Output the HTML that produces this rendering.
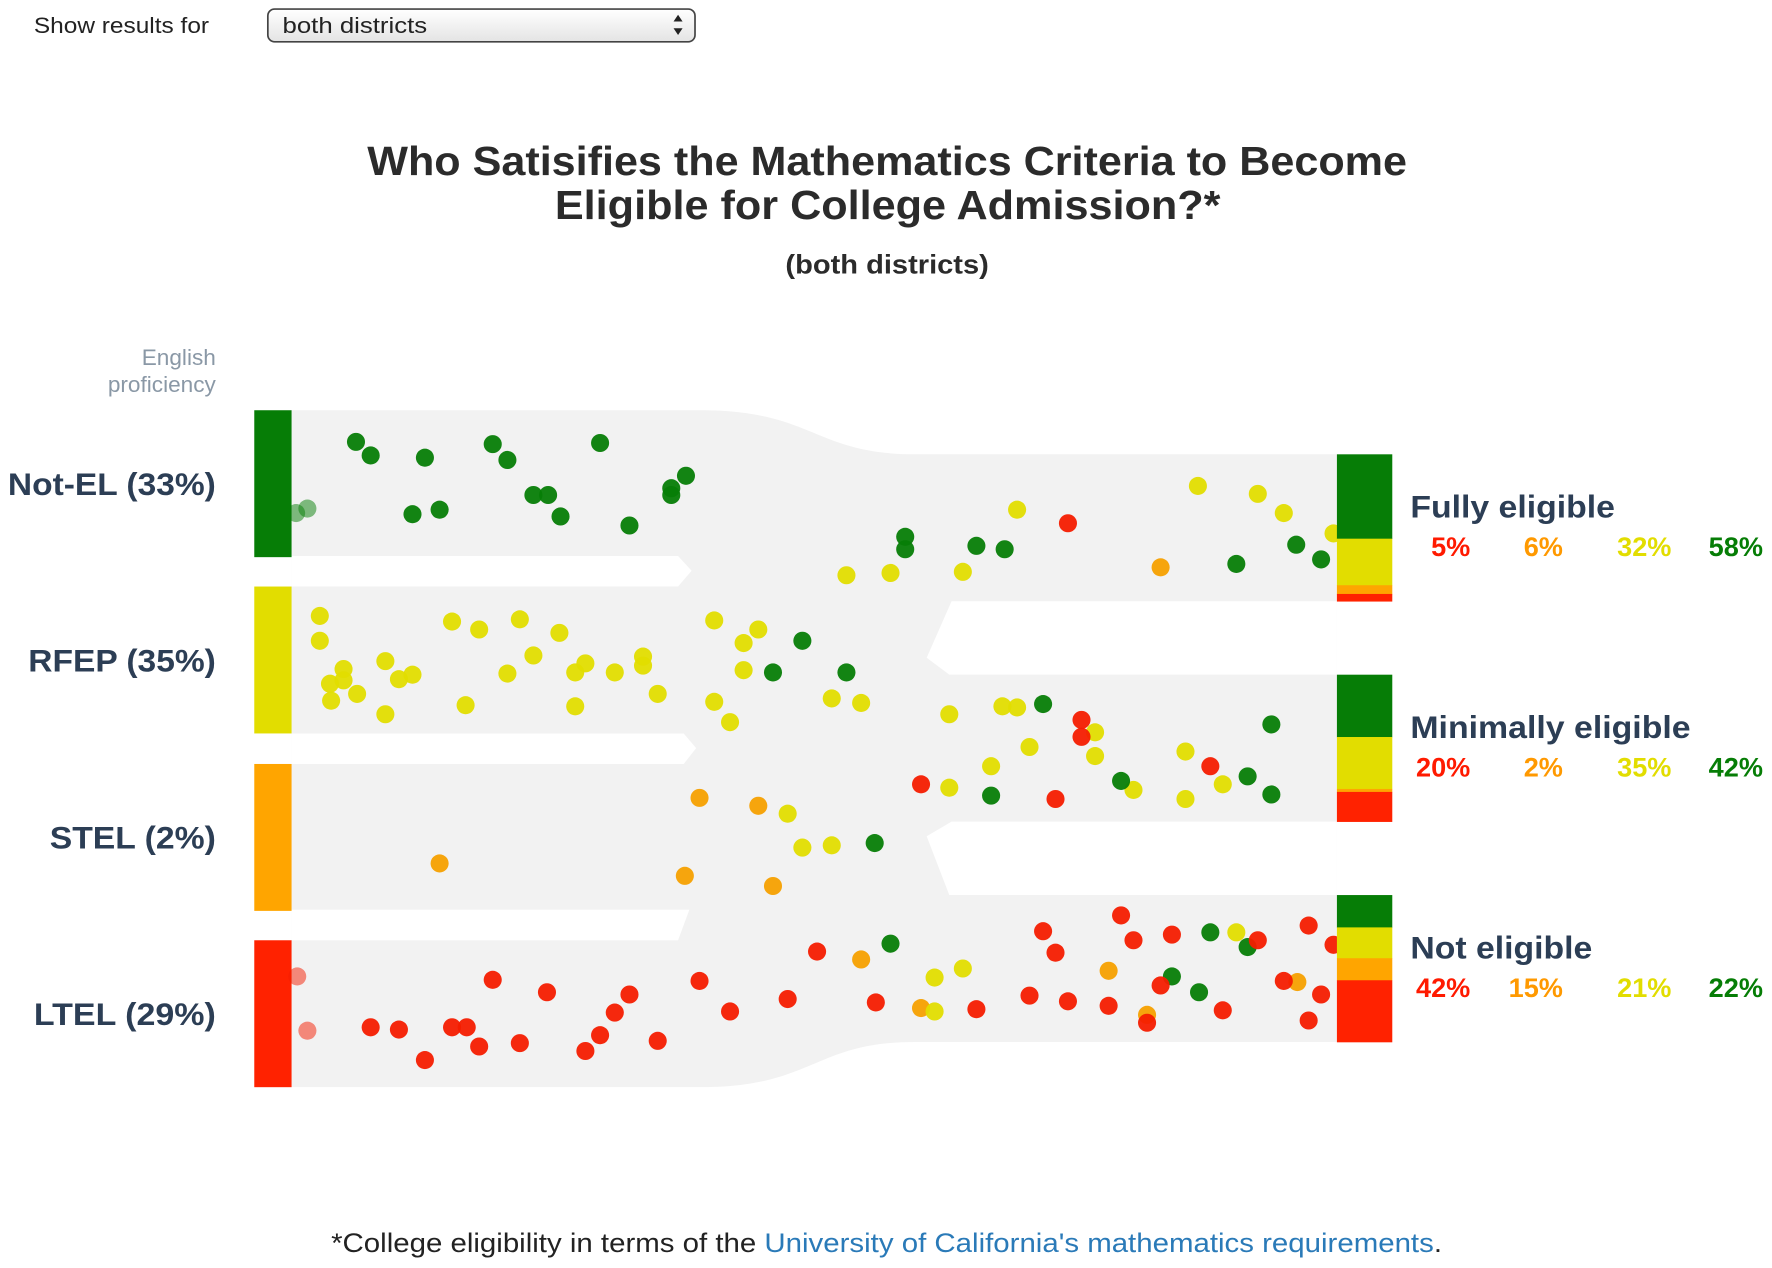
<!DOCTYPE html>
<html><head><meta charset="utf-8">
<style>
html,body{margin:0;padding:0;background:#fff;}
svg{display:block;font-family:"Liberation Sans",Arial,sans-serif;}
</style></head>
<body>
<svg id="chart" width="1772" height="1268" viewBox="0 0 1568 1122" preserveAspectRatio="none">
  <defs>
    <linearGradient id="selg" x1="0" y1="0" x2="0" y2="1">
      <stop offset="0" stop-color="#ffffff"/><stop offset="1" stop-color="#e4e4e4"/>
    </linearGradient>
  </defs>
  <text x="30" y="29" font-size="20" fill="#222" textLength="155" lengthAdjust="spacingAndGlyphs">Show results for</text>
  <g>
    <rect x="237" y="8" width="378" height="29" rx="6" fill="url(#selg)" stroke="#444" stroke-width="1.5"/>
    <text x="250" y="29" font-size="20" fill="#222" textLength="128" lengthAdjust="spacingAndGlyphs">both districts</text>
    <path d="M596 19 L600 13 L604 19 Z M596 25 L600 31 L604 25 Z" fill="#222"/>
  </g>
  <text x="325" y="155" font-size="36" font-weight="bold" fill="#2b2b2b" textLength="920" lengthAdjust="spacingAndGlyphs">Who Satisifies the Mathematics Criteria to Become</text>
  <text x="491" y="194" font-size="36" font-weight="bold" fill="#2b2b2b" textLength="589" lengthAdjust="spacingAndGlyphs">Eligible for College Admission?*</text>
  <text x="695" y="242" font-size="24" font-weight="bold" fill="#2b2b2b" textLength="180" lengthAdjust="spacingAndGlyphs">(both districts)</text>
  <text x="191" y="323" font-size="20" fill="#8a98a6" text-anchor="end">English</text>
  <text x="191" y="347" font-size="20" fill="#8a98a6" text-anchor="end">proficiency</text>

  <path fill="#f2f2f2"
    d="M258 363 L620 363 C720 363 720 402 810 402 L1183 402 L1183 922 L810 922 C720 922 720 962 620 962 L258 962 Z"/>
  <g fill="#fff">
    <path d="M258 492 L600 492 L612 505 L600 519 L258 519 Z"/>
    <path d="M258 649 L605 649 L616 662 L605 676 L258 676 Z"/>
    <path d="M258 805 L610 805 L600 832 L258 832 Z"/>
    <path d="M1183 532 L842 532 L820 582 L840 597 L1183 597 Z"/>
    <path d="M1183 727 L842 727 L820 740 L840 792 L1183 792 Z"/>
  </g>
  <g id="left"></g>
  <g id="dots"></g>
  <g id="right"></g>
  <text x="293" y="1108" font-size="24" fill="#222" textLength="983" lengthAdjust="spacingAndGlyphs">*College eligibility in terms of the <tspan fill="#2a7ab8">University of California's mathematics requirements</tspan>.</text>
</svg>
<script>
const NS="http://www.w3.org/2000/svg";
const groupNames=["Not-EL (33%)","RFEP (35%)","STEL (2%)","LTEL (29%)"];
const groupLabelWidths=[184,166,147,161];
const groupColors=["#067d06","#e2dd00","#ffa500","#ff2200"];
const outcomeNames=["Fully eligible","Minimally eligible","Not eligible"];
const outcomeLabelWidths=[181,248,161];
const pctRed=[5,20,42];
const pctOrange=[6,2,15];
const pctYellow=[32,35,21];
const pctGreen=[58,42,22];
const dotX=[315,328,376,436,449,531,272,262,365,389,472,485,496,557,594,594,607,801,801,864,889,1094,1147,1169,
900,1060,1113,1136,1180,749,788,852,945,1027,
283,283,304,304,292,293,316,341,353,365,341,400,424,460,495,472,449,518,509,509,544,569,569,582,412,632,671,658,658,632,646,736,762,840,887,900,969,969,911,877,840,1003,1049,1049,1082,
710,684,749,923,1125,992,1104,1125,877,774,1061,1037,1071,1104,788,
957,957,815,934,1071,
389,619,671,606,684,762,815,981,1015,1148,
697,710,736,827,852,827,1094,
263,272,328,353,376,400,413,424,436,460,484,518,531,544,557,582,619,646,697,723,775,864,911,923,934,945,981,992,1003,1037,1027,1015,1082,1113,1136,1158,1169,1158,1180];
const dotY=[391,403,405,393,407,392,450,454,455,451,438,438,457,465,438,432,421,475,486,483,486,499,482,495,
451,430,437,454,472,509,507,506,463,502,
545,567,592,602,605,620,614,585,601,597,632,550,557,548,560,580,596,587,595,625,595,581,589,614,624,549,557,569,593,621,639,618,622,632,625,626,648,669,661,678,697,699,665,707,694,
567,595,595,623,641,691,687,703,704,746,878,864,825,838,835,
637,652,694,707,678,
764,706,713,775,784,849,892,859,898,869,
720,750,748,865,857,895,825,
864,912,909,911,938,909,909,926,867,923,878,930,916,896,880,921,868,895,884,842,887,893,881,824,843,886,890,810,832,827,872,905,894,832,868,819,880,903,836];
const dotCat=("g".repeat(24)+"yyyyyyyy"+"r"+"o"+"y".repeat(45)+"g".repeat(15)+"rrrrr"+"o".repeat(10)+"y".repeat(7)+"r".repeat(39)).split("");
const catColor={g:"#067d06",y:"#e2dd00",o:"#f5a000",r:"#f41c00"};

const left=document.getElementById('left');
const groupTop=[363,519,676,832], groupH=130;
groupNames.forEach((n,i)=>{
  const r=document.createElementNS(NS,'rect');
  r.setAttribute('x',225);r.setAttribute('y',groupTop[i]);r.setAttribute('width',33);r.setAttribute('height',groupH);
  r.setAttribute('fill',groupColors[i]);
  
  
  left.appendChild(r);
  const t=document.createElementNS(NS,'text');
  t.setAttribute('x',191-groupLabelWidths[i]);t.setAttribute('y',groupTop[i]+groupH/2+10);
  t.setAttribute('textLength',groupLabelWidths[i]);t.setAttribute('lengthAdjust','spacingAndGlyphs');
  t.setAttribute('font-size',28);t.setAttribute('font-weight','bold');t.setAttribute('fill','#2c3e55');
  t.textContent=n;
  
  
  left.appendChild(t);
});
const dots=document.getElementById('dots');
for(let i=0;i<dotX.length;i++){
  const c=document.createElementNS(NS,'circle');
  c.setAttribute('cx',dotX[i]);c.setAttribute('cy',dotY[i]);c.setAttribute('r',8);
  c.setAttribute('fill',catColor[dotCat[i]]);
  c.setAttribute('opacity',(dotX[i]<275)?0.5:0.95);
  
  
  dots.appendChild(c);
}
const right=document.getElementById('right');
const outTop=[402,597,792], outH=130;
const pctColors=["#ff1a00","#ff9900","#e2dd00","#067d06"];
const pctEnds=[1301,1383,1479,1560];
outcomeNames.forEach((n,i)=>{
  const vals=[pctGreen[i],pctYellow[i],pctOrange[i],pctRed[i]];
  const cols=["#067d06","#e2dd00","#ffa500","#ff2200"];
  const tot=vals.reduce((a,b)=>a+b,0);
  let y=outTop[i];
  vals.forEach((v,k)=>{
    const h=v/tot*outH;
    const r=document.createElementNS(NS,'rect');
    r.setAttribute('x',1183);r.setAttribute('y',y);r.setAttribute('width',49);r.setAttribute('height',h+0.3);
    r.setAttribute('fill',cols[k]);
    
    
    right.appendChild(r);y+=h;
  });
  const t=document.createElementNS(NS,'text');
  t.setAttribute('x',1248);t.setAttribute('y',outTop[i]+56);t.setAttribute('font-size',28);t.setAttribute('font-weight','bold');t.setAttribute('fill','#2c3e55');
  t.setAttribute('textLength',outcomeLabelWidths[i]);t.setAttribute('lengthAdjust','spacingAndGlyphs');
  t.textContent=n;
  
  
  right.appendChild(t);
  const pv=[pctRed[i],pctOrange[i],pctYellow[i],pctGreen[i]];
  pv.forEach((v,k)=>{
    const p=document.createElementNS(NS,'text');
    p.setAttribute('x',pctEnds[k]);p.setAttribute('y',outTop[i]+90);p.setAttribute('text-anchor','end');
    p.setAttribute('font-size',24);p.setAttribute('font-weight','bold');p.setAttribute('fill',pctColors[k]);
    p.textContent=v+'%';
    
    
    right.appendChild(p);
  });
});
</script>
</body></html>
